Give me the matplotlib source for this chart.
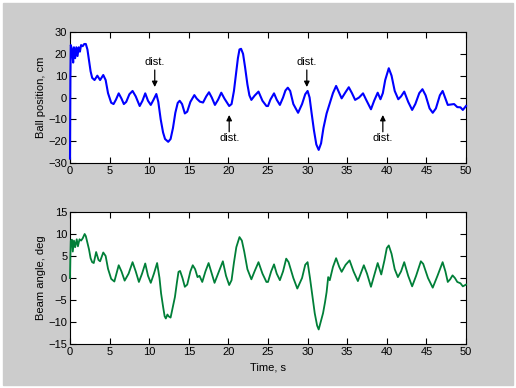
import numpy as np
import matplotlib.pyplot as plt
from matplotlib.patches import Rectangle

# ball position, cm
ball_t = [0.0, 0.05, 0.1, 0.25, 0.4, 0.5, 0.65, 0.8, 0.95, 1.1, 1.25, 1.4, 1.6, 1.8, 2.0,
          2.2, 2.4, 2.6, 2.8, 3.1, 3.45, 3.8, 4.2, 4.5, 4.8, 5.2, 5.5, 5.8, 6.15, 6.5,
          6.8, 7.1, 7.5, 7.9, 8.3, 8.8, 9.15, 9.5, 9.85, 10.2, 10.55, 10.9, 11.15, 11.45,
          11.75, 12.0, 12.4, 12.7, 13.0, 13.3, 13.6, 13.85, 14.15, 14.5, 14.8, 15.2, 15.7,
          16.0, 16.4, 16.8, 17.2, 17.55, 17.9, 18.3, 18.7, 19.1, 19.5, 20.1, 20.4, 20.7,
          21.0, 21.2, 21.4, 21.6, 21.85, 22.1, 22.4, 22.65, 22.9, 23.3, 23.8, 24.3, 24.8,
          25.0, 25.3, 25.76, 26.1, 26.5, 26.9, 27.2, 27.5, 27.8, 28.2, 28.8, 29.3, 29.7,
          30.0, 30.25, 30.5, 30.8, 31.1, 31.4, 31.7, 32.0, 32.4, 32.8, 33.2, 33.6, 34.0,
          34.3, 34.8, 35.2, 35.6, 36.0, 36.5, 37.0, 37.4, 38.0, 38.4, 38.85, 39.2, 39.5,
          39.8, 40.25, 40.6, 41.0, 41.45, 41.8, 42.2, 42.7, 43.2, 43.6, 44.1, 44.5, 44.9,
          45.4, 45.8, 46.2, 46.7, 47.05, 47.4, 47.7, 48.1, 48.5, 48.9, 49.3, 49.6, 50.0]
ball_pos = [-28, 10, 24, 22, 16, 23, 18, 23, 19, 23, 21, 24, 23.5, 24.5, 24.5,
            22, 17, 12, 9, 8, 10, 8, 10.3, 8, 2, -2.4, -3, -1, 1.9, -0.5,
            -3, -2, 1.5, 3, 0.5, -3.9, -1.5, 1.9, -1.5, -3.4, -1, 1.6, -2, -10,
            -16, -19, -20.3, -19, -14, -7, -2.5, -1.5, -3, -7.3, -6.5, -2, 1.1,
            -0.5, -1.9, -2.3, 0.5, 2.4, 0, -3.4, -1, 2.2, -0.5, -3.9, -3, 3,
            12, 18, 22, 22.3, 20, 14, 6, 1, -1.1, 0.8, 2.7, -1.5, -3.9,
            -3.9, -1, 1.9, -1, -3.4, 0, 3.2, 4.5, 3, -3, -7, -3, 1.5,
            3, 0, -7, -15, -21.5, -24, -21, -14, -7.3, -2.7, 2, 5.3, 2,
            -0.4, 2.5, 4.7, 2, -1.1, 0, 1.9, -1.1, -5.4, -1.5, 2.2, -0.8, 2,
            8, 13.4, 10, 3, -0.8, 0.5, 2.7, -2, -5.7, -3, 2, 3.8, 1,
            -5, -7, -5, 1, 3, -0.5, -3.4, -3.2, -3, -4.4, -4.5, -5.7, -3.9]

# beam angle, deg
beam_t = [0.0, 0.05, 0.1, 0.25, 0.35, 0.5, 0.65, 0.85, 1.0, 1.2, 1.4, 1.6, 1.85, 2.0,
          2.2, 2.4, 2.6, 2.8, 3.0, 3.3, 3.6, 3.8, 4.2, 4.5, 4.8, 5.2, 5.6, 5.9, 6.15,
          6.5, 6.9, 7.4, 7.9, 8.3, 8.7, 9.1, 9.5, 9.85, 10.2, 10.6, 11.0, 11.3, 11.5,
          11.75, 11.95, 12.1, 12.3, 12.45, 12.7, 13.0, 13.25, 13.5, 13.7, 13.9, 14.2,
          14.5, 14.8, 15.2, 15.5, 15.8, 16.1, 16.35, 16.7, 17.1, 17.5, 17.9, 18.25,
          18.8, 19.3, 19.7, 20.1, 20.4, 20.7, 21.0, 21.4, 21.7, 22.0, 22.4, 22.9, 23.3,
          23.8, 24.3, 24.8, 25.0, 25.4, 25.76, 26.1, 26.5, 26.9, 27.3, 27.6, 28.2, 28.7,
          29.3, 29.7, 30.0, 30.3, 30.6, 30.9, 31.2, 31.4, 31.65, 31.95, 32.2, 32.4,
          32.6, 32.8, 33.2, 33.6, 34.0, 34.3, 34.8, 35.3, 35.8, 36.35, 36.7, 37.1,
          37.5, 38.0, 38.4, 38.85, 39.3, 39.7, 40.0, 40.25, 40.6, 41.0, 41.4, 41.8,
          42.2, 42.7, 43.2, 43.7, 44.3, 44.6, 45.2, 45.8, 46.4, 47.05, 47.4, 47.7,
          48.0, 48.3, 48.6, 48.9, 49.3, 49.6, 50.0]
beam_ang = [0, 5, 8.5, 8.7, 6, 8.5, 7, 8.8, 7.2, 8.8, 8.5, 9, 10, 9.5,
            8, 6.5, 4.5, 3.6, 3.4, 5.9, 4.1, 3.8, 5.8, 5, 2.1, -0.2, -0.8, 1.2, 2.9,
            1.5, -0.6, 1, 3.6, 1.5, -0.9, 1, 3.3, 0.5, -1.1, 1, 3.4, 0, -3.5,
            -6.5, -8.7, -9.2, -8.3, -8.7, -9, -6.5, -4.3, -1, 1.4, 1.6, 0,
            -2.0, -1.5, 1.5, 2.9, 2, 0.2, 0.5, -0.9, 1.5, 3.4, 1, -1.1,
            1.5, 3.8, 0.5, -1.6, -0.5, 3.5, 7, 9.3, 8.5, 6, 2, -0.3, 1.5,
            3.6, 1, -0.9, -0.9, 1.5, 3.1, 1, -0.5, 1.5, 4.4, 3.6, 0, -2.4,
            0, 3, 3.6, 0, -4, -8, -10.8, -11.7, -10, -8, -5.5, -3.2,
            0.2, -0.5, 2.5, 4.5, 2.5, 1.4, 3, 4.0, 1.5, -0.7, 1, 2.9,
            1, -2.0, 0.5, 3.4, 0.8, 4, 6.8, 7.4, 5.5, 2, 0.2, 1.5,
            3.6, 0.5, -1.9, 0.5, 3.8, 3.2, 0, -2.2, 0.5, 3.6, 1.5, -0.9,
            -0.3, 0.6, 0, -0.9, -1.2, -1.9, -1.5]

# disturbances: time and whether the arrow points down (from above) or up (from below)
dist_times = [10.7, 20.1, 29.9, 39.5]
dist_from_above = [True, False, True, False]

plt.rcParams['font.family'] = ['Liberation Sans', 'DejaVu Sans']
plt.rcParams['font.size'] = 8

fig = plt.figure(figsize=(5.16, 3.88), dpi=100, facecolor='white')
fig.patches.append(Rectangle((3 / 516, 3 / 388), 510 / 516, 382 / 388,
                             transform=fig.transFigure, color='#cccccc', zorder=-1))

ax1 = fig.add_axes([70 / 516, 1 - 163 / 388, 396 / 516, 131 / 388])
ax2 = fig.add_axes([70 / 516, 1 - 344 / 388, 396 / 516, 132 / 388])

# lines above the spines, unclipped, so the start at t=0 shows on the left edge
ax1.plot(ball_t, ball_pos, color='#0000ff', lw=1.5, zorder=3, clip_on=False)
ax2.plot(beam_t, beam_ang, color='#007f38', lw=1.3, zorder=3, clip_on=False)

ax1.set_ylim(-30, 30)
ax1.set_yticks(np.arange(-30, 31, 10))
ax1.set_ylabel('Ball position, cm', labelpad=2)
ax2.set_ylim(-15, 15)
ax2.set_yticks(np.arange(-15, 16, 5))
ax2.set_ylabel('Beam angle, deg', labelpad=2)
ax2.set_xlabel('Time, s')

for ax in (ax1, ax2):
    ax.set_xlim(0, 50)
    ax.set_xticks(np.arange(0, 51, 5))
    ax.tick_params(direction='in', top=True, right=True, length=4, width=0.8, pad=2)
    for sp in ax.spines.values():
        sp.set_linewidth(0.8)
    ax.set_facecolor('white')

for t, above in zip(dist_times, dist_from_above):
    if above:
        tip, tail, ty = 4.8, 12.6, 16.3
    else:
        tip, tail, ty = -8, -15.7, -18.6
    ax1.annotate('', xy=(t, tip), xytext=(t, tail),
                 arrowprops=dict(arrowstyle='-|>', color='k', lw=0.9,
                                 mutation_scale=8, shrinkA=0, shrinkB=0))
    ax1.text(t, ty, 'dist.', ha='center', va='center', fontsize=8)

fig.savefig('out.png', dpi=100, facecolor=fig.get_facecolor())
